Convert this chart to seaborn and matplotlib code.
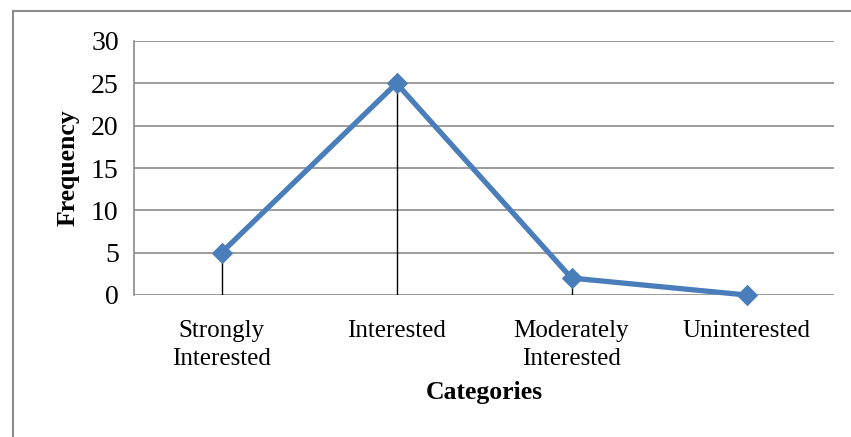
import pandas as pd
import seaborn as sns
import matplotlib.pyplot as plt
from matplotlib.patches import Rectangle

categories = ['Strongly\nInterested', 'Interested', 'Moderately\nInterested', 'Uninterested']
frequency = [5, 25, 2, 0]
y_ticks = [0, 5, 10, 15, 20, 25, 30]

sns.set_style('white')
plt.rcParams['font.family'] = ['Liberation Serif', 'DejaVu Serif']
plt.rcParams['text.color'] = 'black'
plt.rcParams['xtick.color'] = 'black'
plt.rcParams['ytick.color'] = 'black'
plt.rcParams['axes.labelcolor'] = 'black'

df = pd.DataFrame({'category': categories, 'frequency': frequency})

fig = plt.figure(figsize=(8.51, 4.37), dpi=100)
ax = fig.add_axes([134 / 851, 1 - 295 / 437, 700 / 851, 254 / 437])

# drop lines from each point down to zero
ax.vlines(range(len(categories)), 0, df['frequency'], color='black', linewidth=1, zorder=2)

sns.lineplot(data=df, x='category', y='frequency', sort=False, ax=ax, color='#4A7EBB',
             linewidth=3.8, marker='D', markersize=10, markeredgecolor='#4A7EBB', zorder=3,
             clip_on=False)

ax.set_xlim(-0.5, 3.5)
ax.set_ylim(0, 30)
ax.set_yticks(y_ticks)
ax.yaxis.grid(True, color='#8c8c8c', linewidth=1.2)
ax.set_axisbelow(True)
for side in ['top', 'right', 'bottom']:
    ax.spines[side].set_visible(False)
ax.spines['left'].set_color('#8c8c8c')
ax.spines['left'].set_linewidth(1.2)
ax.tick_params(axis='y', length=6, color='#8c8c8c', width=1.2, labelsize=20, pad=5,
               labelcolor='black')
ax.tick_params(axis='x', length=0, labelsize=18, pad=18, labelcolor='black')
for lbl in ax.get_xticklabels():
    lbl.set_linespacing(1.35)
    lbl.set_multialignment('center')

ax.set_xlabel('Categories', fontsize=18.5, fontweight='bold', labelpad=8)
ax.set_ylabel('Frequency', fontsize=18.5, fontweight='bold', labelpad=8)

# outer chart frame
fig.patches.append(Rectangle((13 / 851, -0.1), 1.0, 1 - 11 / 437 + 0.1, transform=fig.transFigure,
                             fill=False, edgecolor='#8c8c8c', linewidth=1.5))

fig.savefig('out.png', dpi=100)
